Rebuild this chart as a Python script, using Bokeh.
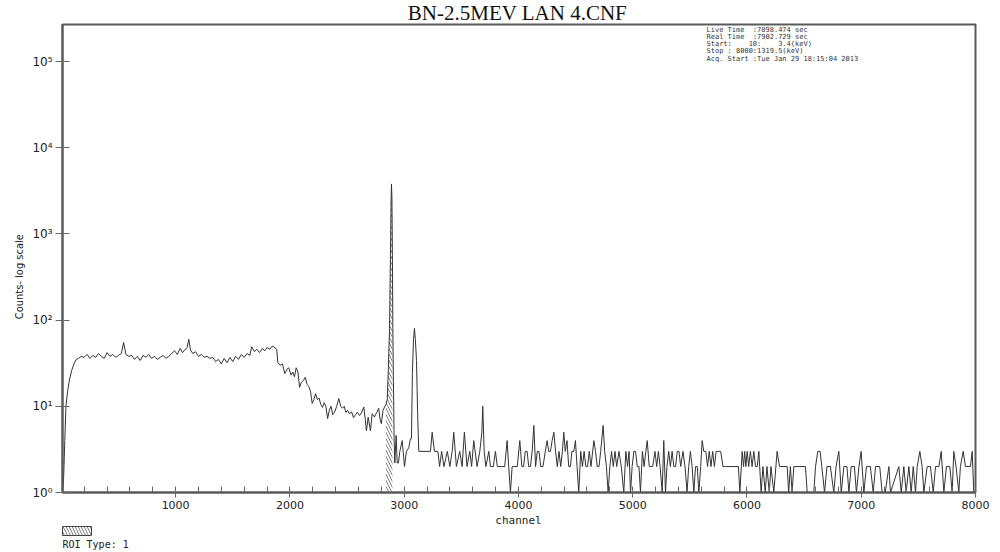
import math
from bokeh.plotting import figure
from bokeh.layouts import column, row
from bokeh.models import (FixedTicker, CustomJSTickFormatter, Label, Range1d,
                          ColumnDataSource)
from bokeh.core.properties import value
from bokeh.embed import file_html
from bokeh.resources import INLINE

# ---- spectrum: channel number and counts per channel ----
rise_ch = [10, 20, 30, 40, 55, 70, 90, 110, 130, 150]
rise_counts = [1, 1.5, 4, 10, 15, 20, 26, 31, 35, 36]

plateau_ch = [175, 200, 225, 250, 275, 300, 325, 350, 375, 400, 425, 450, 475, 500,
              525, 545, 565, 590, 615, 640, 665, 690, 715, 740, 765, 790, 815, 840,
              865, 890, 915, 940, 965, 990, 1015, 1040, 1060, 1080, 1100, 1115, 1130,
              1150, 1175, 1200, 1225, 1250, 1275, 1300, 1325, 1350, 1375, 1400, 1425,
              1450, 1475, 1500, 1525, 1550, 1575, 1600, 1625, 1650, 1665, 1690, 1710,
              1735, 1760, 1780, 1800, 1825, 1845, 1870, 1885]
plateau_counts = [38, 37, 40, 36, 39, 37, 41, 38, 36, 42, 38, 40, 37, 39,
                  41, 55, 40, 38, 39, 35, 38, 34, 39, 37, 40, 36, 38, 35,
                  37, 39, 36, 38, 41, 44, 40, 47, 42, 45, 48, 60, 45,
                  41, 43, 38, 40, 37, 38, 36, 37, 33, 35, 31, 36,
                  32, 37, 33, 38, 35, 40, 37, 41, 39, 49, 43, 46,
                  42, 47, 44, 48, 46, 50, 48, 45]

edge_ch = [1895, 1915, 1935, 1955, 1975, 1990, 2010, 2025, 2040, 2055, 2070, 2085,
           2100, 2120, 2135, 2150, 2165, 2180, 2195, 2210, 2225, 2240, 2255, 2270,
           2285, 2300, 2315, 2330, 2345, 2360, 2375, 2390, 2410, 2428, 2445, 2460,
           2475, 2490, 2505, 2520, 2540, 2556, 2575, 2590, 2610, 2630, 2647, 2660,
           2670, 2685, 2705, 2720, 2740, 2760, 2777, 2790, 2800, 2815, 2828, 2840]
edge_counts = [32, 30, 31, 24, 27, 28, 23, 25, 22, 28, 25, 16.6,
               19, 20, 21.7, 18, 17, 15, 10.8, 12, 14, 12, 12.5, 10.5,
               9.7, 11, 10, 7.2, 9, 10, 8, 8.5, 10, 12.3, 10, 9.5,
               10, 8.5, 9, 8.2, 8.6, 7.4, 8, 8.5, 7.8, 8.6, 9.8, 7,
               5.2, 7.5, 5.2, 8.2, 7.5, 8.5, 9.5, 7, 6.3, 9, 9.8, 10.5]

peak_ch = [2852, 2862, 2872, 2880, 2886, 2889, 2893, 2897, 2901, 2906, 2912, 2918,
           2930, 2939, 2950, 2962, 2983, 3003, 3020, 3040, 3055, 3064, 3072, 3082,
           3090, 3098, 3108, 3118, 3128, 3230]
peak_counts = [12, 28, 80, 560, 2600, 3800, 2600, 560, 80, 20, 4.4, 2.2,
               4.6, 2.2, 2.2, 3, 4, 2, 3, 3.3, 4.2, 4.2, 24, 60,
               80, 60, 34, 8, 3, 3]

tail_ch = [3245, 3265, 3295, 3310, 3328, 3348, 3378, 3400, 3420, 3434, 3457, 3486,
           3507, 3527, 3550, 3574, 3590, 3609, 3638, 3662, 3680, 3688, 3700, 3715,
           3741, 3755, 3780, 3799, 3815, 3850, 3880, 3901, 3915, 3930, 3945, 3970,
           3990, 4012, 4030, 4045, 4060, 4076, 4090, 4105, 4120, 4135, 4150, 4165,
           4180, 4195, 4215, 4235, 4251, 4265, 4280, 4295, 4310, 4325, 4340, 4355,
           4370, 4385, 4397, 4410, 4425, 4440, 4455, 4468, 4485, 4499, 4513, 4528,
           4545, 4560, 4575, 4590, 4605, 4620, 4635, 4660, 4675, 4690, 4705, 4720,
           4741, 4755, 4770, 4785, 4800, 4815, 4830, 4845, 4860, 4880, 4900, 4922,
           4940, 4955, 4968, 4981, 4995, 5010, 5025, 5040, 5055, 5068, 5085, 5100,
           5115, 5127, 5145, 5160, 5175, 5195, 5210, 5225, 5240, 5258, 5272, 5287,
           5300, 5315, 5330, 5345, 5360, 5375, 5390, 5405, 5420, 5440, 5458, 5476,
           5490, 5505, 5520, 5535, 5550, 5565, 5579, 5595, 5608, 5622, 5640, 5655,
           5670, 5685, 5700, 5715, 5730, 5750, 5770, 5790, 5812, 5925, 5938, 5958,
           5970, 5980, 5990, 6002, 6015, 6030, 6045, 6060, 6075, 6090, 6104, 6124,
           6140, 6160, 6175, 6195, 6210, 6235, 6264, 6285, 6352, 6365, 6380, 6395,
           6410, 6512, 6527, 6585, 6600, 6620, 6640, 6655, 6679, 6700, 6730, 6760,
           6780, 6804, 6825, 6848, 6875, 6892, 6912, 6940, 6958, 6980, 6999, 7023,
           7046, 7080, 7105, 7125, 7162, 7183, 7210, 7242, 7256, 7329, 7350, 7373,
           7393, 7417, 7437, 7455, 7475, 7490, 7513, 7533, 7548, 7577, 7606, 7630,
           7650, 7680, 7700, 7723, 7746, 7775, 7796, 7810, 7830, 7854, 7868, 7892,
           7912, 7942, 7956, 7971, 7985, 8000]
tail_counts = [5, 3, 3, 2, 3, 2, 3, 2, 3, 5, 2, 3,
               2, 5, 2, 3, 2, 4, 2, 3, 5, 10, 3, 2,
               3, 2, 2, 3, 2, 2, 2, 4, 2, 1, 2, 2,
               2, 4, 2, 2, 3, 3, 2, 2, 3, 6, 2, 3,
               3, 2, 2, 3, 4, 3, 3, 4, 5, 3, 2, 3,
               2, 3, 5, 3, 4, 2, 2, 3, 3, 4, 2, 1,
               3, 2, 3, 2, 2, 3, 2, 4, 3, 2, 2, 3,
               6, 3, 2, 1, 2, 3, 2, 3, 2, 3, 2, 1,
               3, 2, 3, 1, 2, 3, 3, 2, 2, 1, 3, 2,
               3, 4, 2, 2, 2, 3, 2, 3, 2, 1, 4, 1,
               2, 3, 2, 3, 2, 2, 3, 3, 2, 3, 2, 1,
               2, 3, 2, 1, 2, 2, 1, 2, 4, 3, 3, 2,
               3, 2, 3, 2, 3, 3, 3, 2, 2, 2, 1, 3,
               2, 3, 2, 3, 2, 3, 2, 3, 2, 2, 3, 1,
               2, 1, 2, 1, 2, 1, 3, 2, 2, 1, 2, 1,
               2, 2, 1, 1, 2, 3, 3, 2, 1, 2, 2, 1,
               2, 3, 1, 2, 2, 1, 2, 2, 1, 2, 3, 1,
               2, 2, 1, 2, 2, 1, 1, 2, 1, 2, 1, 2,
               1, 2, 1, 2, 1, 2, 3, 2, 1, 2, 2, 1,
               2, 2, 3, 1, 2, 2, 1, 3, 2, 1, 2, 3,
               2, 2, 2, 3, 1, 1]

channels = rise_ch + plateau_ch + edge_ch + peak_ch + tail_ch
counts = rise_counts + plateau_counts + edge_counts + peak_counts + tail_counts

# region of interest (hatched under the curve)
roi_start, roi_end = 2836, 2900

x_major = [1000, 2000, 3000, 4000, 5000, 6000, 7000, 8000]
x_minor = [c for c in range(200, 8000, 200) if c % 1000 != 0]
y_major = [1, 10, 100, 1000, 10000, 100000]

title_text = "BN-2.5MEV LAN 4.CNF"
NB = "\u00a0"
info_lines = ["Live Time  :7898.474 sec",
              "Real Time  :7902.729 sec",
              "Start:    10:    3.4(keV)",
              "Stop : 8000:1319.5(keV)",
              "Acq. Start :Tue Jan 29 18:15:04 2013"]
info_lines = [s.replace(" ", NB) for s in info_lines]
y_label = "Counts- log scale"
x_label = "channel"
roi_label = "ROI Type: 1"

AXIS = "#5a5a5a"
TEXT = "#222222"
HATCH = "#808080"


def strip(w, h):
    """A bare drawing strip whose data units equal pixels."""
    f = figure(width=w, height=h, output_backend="svg", toolbar_location=None,
               x_range=Range1d(0, w), y_range=Range1d(0, h),
               x_axis_location=None, y_axis_location=None, min_border=0)
    f.outline_line_color = None
    f.grid.visible = False
    f.background_fill_color = "white"
    f.border_fill_color = "white"
    return f


# ---- main spectrum plot ----
p = figure(width=974, height=490, output_backend="svg", toolbar_location=None,
           y_axis_type="log", x_range=Range1d(10, 8000),
           y_range=Range1d(1, 2.69e5), min_border_left=36, min_border_right=25,
           min_border_top=1, min_border_bottom=21)
p.background_fill_color = "white"
p.border_fill_color = "white"
p.outline_line_color = AXIS
p.outline_line_width = 2
p.grid.visible = False

src = ColumnDataSource(dict(ch=channels, c=counts))
roi_pairs = [(ch, c) for ch, c in zip(channels, counts) if roi_start <= ch <= roi_end]
roi_src = ColumnDataSource(dict(ch=[a for a, _ in roi_pairs],
                                lo=[1 for _ in roi_pairs],
                                hi=[b for _, b in roi_pairs]))
p.varea(x="ch", y1="lo", y2="hi", source=roi_src, fill_alpha=0,
        hatch_pattern="\\", hatch_color=HATCH, hatch_scale=6, hatch_weight=1)
p.line(x="ch", y="c", source=src, line_color="#333333", line_width=1)

p.xaxis.ticker = FixedTicker(ticks=x_major, minor_ticks=x_minor)
p.yaxis.ticker = FixedTicker(ticks=y_major, minor_ticks=[])
p.yaxis.formatter = CustomJSTickFormatter(code="""
    const sup = "\u2070\u00b9\u00b2\u00b3\u2074\u2075\u2076\u2077\u2078\u2079";
    const e = Math.round(Math.log10(tick));
    return "10" + sup[e];
""")
for ax in (p.xaxis[0], p.yaxis[0]):
    ax.axis_line_color = AXIS
    ax.axis_line_width = 2
    ax.major_tick_line_color = "#666666"
    ax.minor_tick_line_color = "#666666"
    ax.major_label_text_color = TEXT
    ax.major_label_text_font = "DejaVu Sans"
p.xaxis.major_tick_in = 6
p.xaxis.major_tick_out = 5
p.xaxis.minor_tick_in = 6
p.xaxis.minor_tick_out = 0
p.xaxis.major_label_text_font_size = "11px"
p.xaxis.major_label_standoff = 3
p.yaxis.major_tick_in = 7
p.yaxis.major_tick_out = 7
p.yaxis.minor_tick_in = 0
p.yaxis.minor_tick_out = 0
p.yaxis.major_label_text_font_size = "12px"
p.yaxis.major_label_standoff = 3

# acquisition info block in the upper right of the plot area
for i, line in enumerate(info_lines):
    p.add_layout(Label(x=644, y=463 - 7.3 * i, x_units="screen", y_units="screen",
                       text=line, text_align="left", text_baseline="middle",
                       text_font="DejaVu Sans Mono", text_font_size="7px",
                       text_color="#333333"))

# ---- title strip ----
top = strip(1000, 23)
top.text(x=[517], y=[11], text=[title_text], text_align="center",
         text_baseline="middle", text_font=value("Liberation Serif"),
         text_font_size="21px", text_color="#111111")

# ---- y-axis title strip ----
left = strip(26, 490)
left.text(x=[19], y=[226], text=[y_label], angle=math.pi / 2,
          text_align="center", text_baseline="middle",
          text_font=value("DejaVu Sans Condensed"), text_font_size="11px",
          text_color=TEXT)

# ---- x-axis title and ROI legend strip ----
bottom = strip(1000, 39)
bottom.text(x=[518], y=[32], text=[x_label], text_align="center",
            text_baseline="middle", text_font=value("DejaVu Sans Mono"),
            text_font_size="11px", text_color=TEXT)
bottom.quad(left=[62], right=[91], top=[26], bottom=[17], fill_alpha=0,
            line_color="#444444", line_width=1, hatch_pattern="\\",
            hatch_color=HATCH, hatch_scale=6, hatch_weight=1)
bottom.text(x=[62], y=[8], text=[roi_label], text_align="left",
            text_baseline="middle", text_font=value("DejaVu Sans Mono"),
            text_font_size="10px", text_color=TEXT)

layout = column(top, row(left, p, spacing=0), bottom, spacing=0)
open("out.html", "w").write(file_html(layout, INLINE))
